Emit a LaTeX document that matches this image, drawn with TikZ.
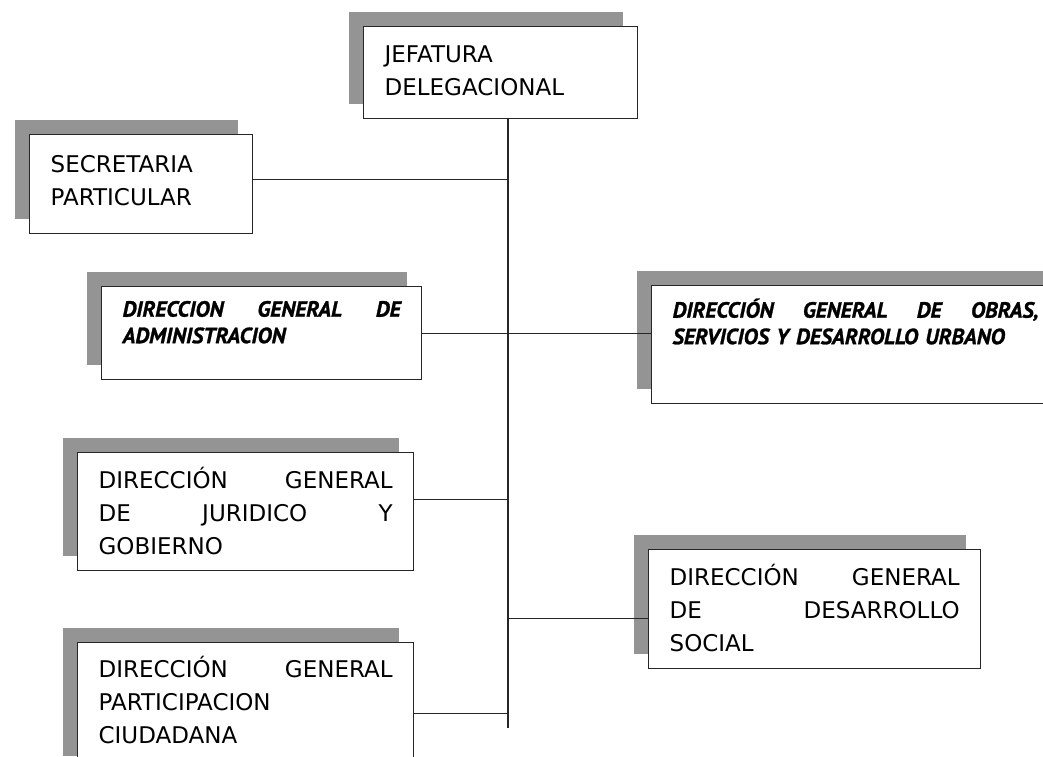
\documentclass[tikz,border=0pt]{standalone}
\usepackage{fontspec}
\setmainfont{DejaVu Sans}
\newfontfamily\gruesa[BoldItalicFeatures={FakeBold=1.2}]{PT Sans}
\usetikzlibrary{shadows}

\tikzset{
    caja/.style={draw=black!85, line width=1.3pt, fill=white, anchor=north west,
        inner xsep=21pt, inner ysep=0pt, align=left,
        drop shadow={shadow xshift=-15pt, shadow yshift=15pt, fill=black!42, opacity=1},
        font=\fontsize{23}{33}\selectfont},
    cajanegra/.style={caja, font=\gruesa\bfseries\itshape\fontsize{22}{26.5}\selectfont},
    linea/.style={draw=black!85, line width=1.1pt}
}

\begin{document}
\begin{tikzpicture}[x=1pt, y=-1pt]
    \useasboundingbox (0,0) rectangle (1043,756);

    \node[caja, text width=232pt, text height=36pt, text depth=56pt] (jefatura) at (363,26) {JEFATURA\\DELEGACIONAL};
    \node[caja, text width=181pt, text height=38pt, text depth=61pt] (secretaria) at (29,134) {SECRETARIA\\PARTICULAR};
    \node[cajanegra, text width=278pt, text height=30pt, text depth=63pt] (administracion) at (101,286) {DIRECCION \hfill GENERAL \hfill DE\\ADMINISTRACION};
    \node[cajanegra, text width=366pt, text height=32pt, text depth=86pt] (obras) at (651,285) {DIRECCIÓN \hfill GENERAL \hfill DE \hfill OBRAS,\\SERVICIOS Y DESARROLLO URBANO};
    \node[caja, text width=294pt, text height=36pt, text depth=82pt] (juridico) at (77,452) {DIRECCIÓN \hfill GENERAL\\DE \hfill JURIDICO \hfill Y\\GOBIERNO};
    \node[caja, text width=290pt, text height=36pt, text depth=83pt] (social) at (648,549) {DIRECCIÓN \hfill GENERAL\\DE \hfill DESARROLLO\\SOCIAL};
    \node[caja, text width=294pt, text height=35pt, text depth=93pt] (participacion) at (77,642) {DIRECCIÓN \hfill GENERAL\\PARTICIPACION\\CIUDADANA};

    \coordinate (tronco) at (jefatura.south -| 508,0);
    \coordinate (pie) at (508,728);
    \draw[linea] (tronco) -- (pie);

    \draw[linea] ([yshift=4.5pt]secretaria.east) -| (tronco);
    \draw[linea] (administracion.east) -- (administracion.east -| obras.west);
    \draw[linea] ([yshift=12pt]juridico.east) -| (tronco);
    \draw[linea] ([yshift=-9.5pt]social.west) -| (tronco);
    \draw[linea] ([yshift=-7pt]participacion.east) -| (tronco);
\end{tikzpicture}
\end{document}
